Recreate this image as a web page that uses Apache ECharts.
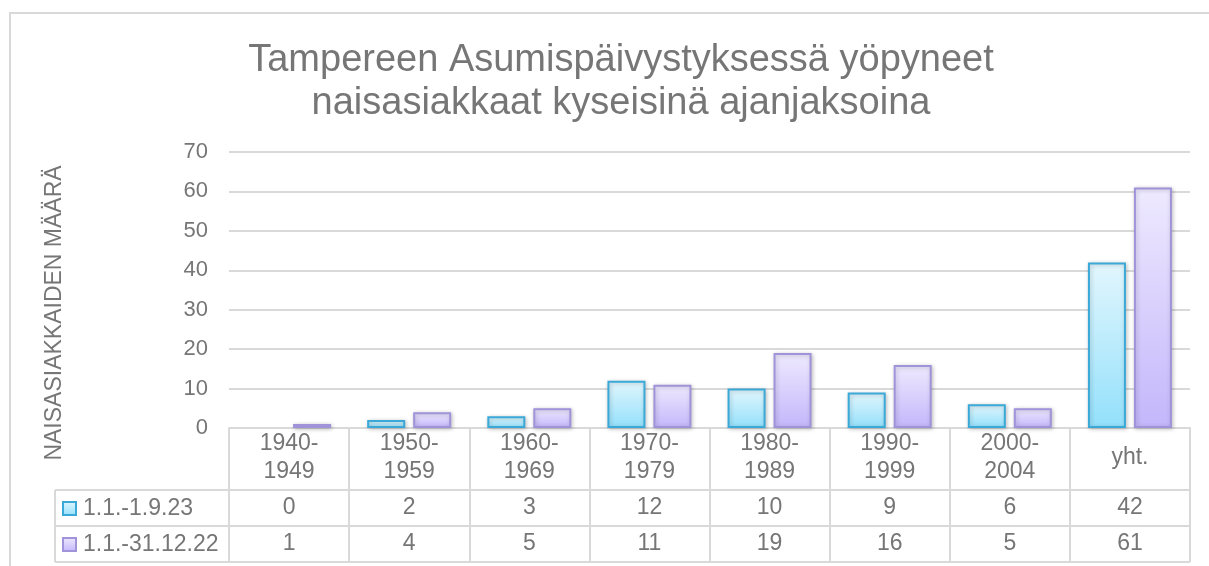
<!DOCTYPE html>
<html>
<head>
<meta charset="utf-8">
<style>
  html, body { margin: 0; padding: 0; background: #fff; }
  #chart { width: 1209px; height: 566px; }
</style>
<script src="https://cdn.jsdelivr.net/npm/echarts@6/dist/echarts.min.js"></script>
</head>
<body>
<div id="chart"></div>
<script>
const categories = ['1940-\n1949', '1950-\n1959', '1960-\n1969', '1970-\n1979', '1980-\n1989', '1990-\n1999', '2000-\n2004', 'yht.'];
const seriesNames = ['1.1.-1.9.23', '1.1.-31.12.22'];
const values2023 = [0, 2, 3, 12, 10, 9, 6, 42];
const values2022 = [1, 4, 5, 11, 19, 16, 5, 61];

const FONT = '"Liberation Sans", Arial, sans-serif';
const TEXT = '#767676';
const LINE = '#d9d9d9';

// grid edges (px), table rows sit under the plot
const G = { left: 229, right: 1190, top: 152, bottom: 428 };
const rowY = [490, 526, 562];
const tableLeft = 55;

const grad = (top, bottom) => new echarts.graphic.LinearGradient(0, 0, 0, 1, [
  { offset: 0, color: top },
  { offset: 1, color: bottom }
]);

const barShadow = {
  shadowBlur: 4,
  shadowColor: 'rgba(0, 0, 0, 0.22)',
  shadowOffsetX: 1,
  shadowOffsetY: 1
};

// zero bars get no outline (excel draws nothing there)
const barData = (vals) => vals.map(v => v === 0
  ? { value: v, itemStyle: { borderWidth: 0, shadowBlur: 0, shadowOffsetX: 0, shadowOffsetY: 0 } }
  : v);

// table value rows drawn as extra category axes (labels only)
const valueAxis = (vals, margin) => ({
  type: 'category',
  gridIndex: 0,
  position: 'bottom',
  data: vals.map(String),
  axisLine: { show: false },
  axisTick: { show: false },
  splitLine: { show: false },
  axisLabel: {
    interval: 0,
    margin: margin,
    verticalAlign: 'middle',
    fontSize: 23,
    color: TEXT,
    fontFamily: FONT
  }
});

const hLine = (y, x1, x2) => ({
  type: 'line',
  shape: { x1: x1, y1: y, x2: x2, y2: y },
  style: { stroke: LINE, lineWidth: 2 },
  silent: true
});

const option = {
  backgroundColor: '#fff',
  animation: false,
  textStyle: { fontFamily: FONT },
  title: {
    text: 'Tampereen Asumispäivystyksessä yöpyneet\nnaisasiakkaat kyseisinä ajanjaksoina',
    left: 616,
    top: 34,
    textAlign: 'center',
    textStyle: {
      fontSize: 38,
      fontWeight: 'normal',
      color: TEXT,
      lineHeight: 43,
      fontFamily: FONT
    }
  },
  legend: {
    data: seriesNames,
    orient: 'vertical',
    icon: 'rect',
    left: 62,
    top: 497,
    padding: 0,
    itemWidth: 13,
    itemHeight: 13,
    itemGap: 13,
    selectedMode: false,
    textStyle: {
      fontSize: 23,
      lineHeight: 23,
      color: TEXT,
      fontFamily: FONT,
      padding: [0, 0, 0, 2]
    }
  },
  grid: {
    left: G.left,
    right: 1209 - G.right,
    top: G.top,
    bottom: 566 - G.bottom,
    containLabel: false
  },
  xAxis: [
    {
      type: 'category',
      data: categories,
      axisLine: { show: true, lineStyle: { color: LINE, width: 2 } },
      axisTick: {
        show: true,
        length: rowY[2] - G.bottom,
        lineStyle: { color: LINE, width: 2 }
      },
      axisLabel: {
        interval: 0,
        margin: 30,
        verticalAlign: 'middle',
        fontSize: 23,
        lineHeight: 28,
        color: TEXT,
        fontFamily: FONT
      }
    },
    valueAxis(values2023, 80),
    valueAxis(values2022, 116)
  ],
  yAxis: {
    type: 'value',
    min: 0,
    max: 70,
    interval: 10,
    name: 'NAISASIAKKAIDEN MÄÄRÄ',
    nameLocation: 'middle',
    nameGap: 163,
    nameTextStyle: {
      fontSize: 23,
      color: TEXT,
      fontFamily: FONT,
      padding: [0, 46, 0, 0]
    },
    axisLine: { show: false },
    axisTick: { show: false },
    axisLabel: { fontSize: 22, color: TEXT, margin: 21, fontFamily: FONT },
    splitLine: { lineStyle: { color: LINE, width: 2 } }
  },
  series: [
    {
      name: seriesNames[0],
      type: 'bar',
      data: barData(values2023),
      barWidth: 38,
      barGap: '21%',
      itemStyle: Object.assign({
        color: grad('#e2f6fd', '#93e0fb'),
        borderColor: '#3aa9d8',
        borderWidth: 2
      }, barShadow)
    },
    {
      name: seriesNames[1],
      type: 'bar',
      data: barData(values2022),
      barWidth: 38,
      barGap: '21%',
      itemStyle: Object.assign({
        color: grad('#eeeafe', '#c4b6fb'),
        borderColor: '#a193d9',
        borderWidth: 2
      }, barShadow)
    }
  ],
  graphic: [
    // outer chart frame (top and left edges only are visible)
    hLine(13, 10, 1209),
    {
      type: 'line',
      shape: { x1: 10, y1: 12, x2: 10, y2: 566 },
      style: { stroke: LINE, lineWidth: 2 },
      silent: true
    },
    // data table rules
    hLine(rowY[0], tableLeft, G.right),
    hLine(rowY[1], tableLeft, G.right),
    hLine(rowY[2], tableLeft, G.right),
    {
      type: 'line',
      shape: { x1: tableLeft, y1: rowY[0], x2: tableLeft, y2: rowY[2] },
      style: { stroke: LINE, lineWidth: 2 },
      silent: true
    }
  ]
};

const chart = echarts.init(document.getElementById('chart'));
chart.setOption(option);
window.addEventListener('resize', () => chart.resize());
</script>
</body>
</html>
